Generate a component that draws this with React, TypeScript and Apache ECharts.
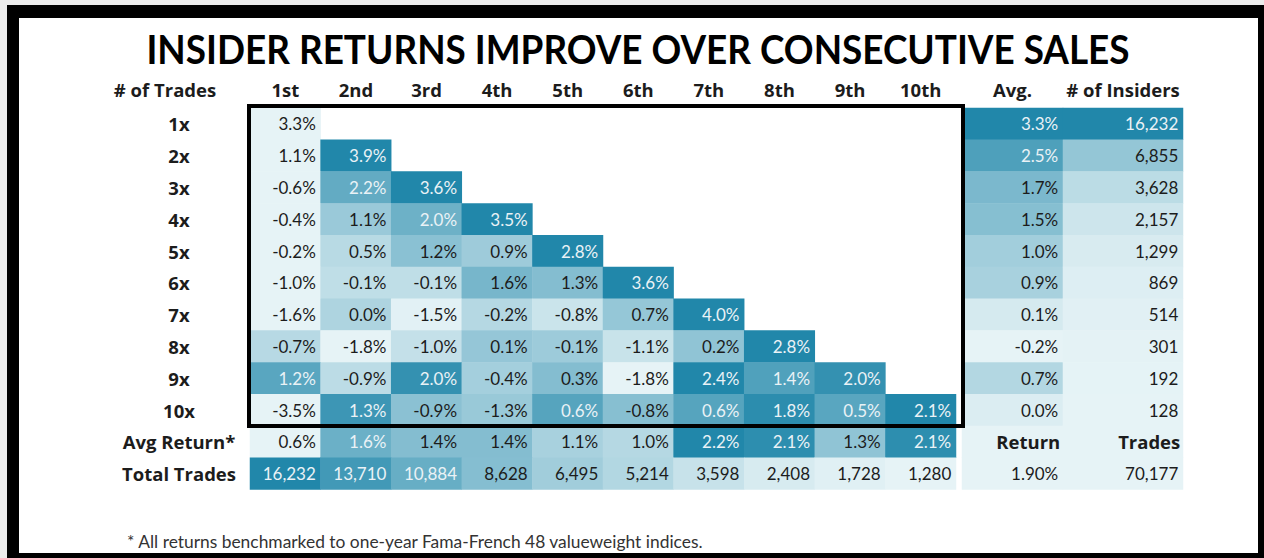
import React, { useEffect, useRef } from "react";
import * as echarts from "echarts";

// ---------- data ----------
const titleText = "INSIDER RETURNS IMPROVE OVER CONSECUTIVE SALES";
const cornerLabel = "# of Trades";
const footnote = "* All returns benchmarked to one-year Fama-French 48 valueweight indices.";

const colLabels = ["1st", "2nd", "3rd", "4th", "5th", "6th", "7th", "8th", "9th", "10th"];
const rowLabels = ["1x", "2x", "3x", "4x", "5x", "6x", "7x", "8x", "9x", "10x", "Avg Return*", "Total Trades"];

const row1x = [3.3];
const row2x = [1.1, 3.9];
const row3x = [-0.6, 2.2, 3.6];
const row4x = [-0.4, 1.1, 2.0, 3.5];
const row5x = [-0.2, 0.5, 1.2, 0.9, 2.8];
const row6x = [-1.0, -0.1, -0.1, 1.6, 1.3, 3.6];
const row7x = [-1.6, 0.0, -1.5, -0.2, -0.8, 0.7, 4.0];
const row8x = [-0.7, -1.8, -1.0, 0.1, -0.1, -1.1, 0.2, 2.8];
const row9x = [1.2, -0.9, 2.0, -0.4, 0.3, -1.8, 2.4, 1.4, 2.0];
const row10x = [-3.5, 1.3, -0.9, -1.3, 0.6, -0.8, 0.6, 1.8, 0.5, 2.1];
const returnRows = [row1x, row2x, row3x, row4x, row5x, row6x, row7x, row8x, row9x, row10x];

const avgReturnRow = [0.6, 1.6, 1.4, 1.4, 1.1, 1.0, 2.2, 2.1, 1.3, 2.1];
const totalTradesRow = [16232, 13710, 10884, 8628, 6495, 5214, 3598, 2408, 1728, 1280];

const avgHeader = "Avg.";
const avgColumn = [3.3, 2.5, 1.7, 1.5, 1.0, 0.9, 0.1, -0.2, 0.7, 0.0];
const insidersHeader = "# of Insiders";
const insidersColumn = [16232, 6855, 3628, 2157, 1299, 869, 514, 301, 192, 128];

const summaryHeaders = ["Return", "Trades"];
const overallReturn = 1.9;
const overallTrades = 70177;

// ---------- styling / layout ----------
const FONT = "Lato, 'Open Sans', sans-serif";
const HFONT = "'Open Sans', Lato, sans-serif";
const HSIZE = 18.5;
const VSIZE = 17;
const DARK_TXT = "#1c1c1c";
const LIGHT_TXT = "#eaf2f6";
const LOW = "#e6f3f6";
const HIGH = "#2187aa";
const TOP = 108;
const ROW_H = 31.8;
const NROWS = 12;
const MAIN_LEFT = 250;
const COL_W = 70.6;
const AVG_LEFT = 962;
const AVG_W = 101;
const INS_LEFT = 1063;
const INS_W = 120;

const pct = (v: number, d = 1) => v.toFixed(d) + "%";
const num = (v: number) => v.toLocaleString("en-US");

function scaler(vals: number[]) {
  const mn = Math.min(...vals);
  const mx = Math.max(...vals);
  return (v: number) => (mx === mn ? 0 : (v - mn) / (mx - mn));
}

function cell(x: number, y: number, v: number, n: number, text: string, header = false) {
  return {
    value: [x, y, v, n],
    text,
    label: header
      ? { color: DARK_TXT, fontWeight: "bold", fontFamily: HFONT, fontSize: HSIZE, distance: 3 }
      : { color: n >= 0.6 ? LIGHT_TXT : DARK_TXT },
  };
}

function buildMain() {
  const items: any[] = [];
  returnRows.forEach((row, r) => {
    const s = scaler(row);
    row.forEach((v, c) => items.push(cell(c, r, v, s(v), pct(v))));
  });
  const sa = scaler(avgReturnRow);
  avgReturnRow.forEach((v, c) => items.push(cell(c, 10, v, sa(v), pct(v))));
  const st = scaler(totalTradesRow);
  totalTradesRow.forEach((v, c) => items.push(cell(c, 11, v, st(v), num(v))));
  return items;
}

function buildSide(vals: number[], fmt: (v: number) => string, header: string, total: string) {
  const s = scaler(vals);
  const items: any[] = vals.map((v, r) => cell(0, r, v, s(v), fmt(v)));
  items.push(cell(0, 10, 0, -1, header, true));
  items.push(cell(0, 11, 0, -1, total));
  return items;
}

export default function App() {
  const ref = useRef<HTMLDivElement>(null);

  useEffect(() => {
    if (!ref.current) return;
    const chart = echarts.init(ref.current, undefined, { renderer: "svg" });
    const gridH = ROW_H * NROWS;
    const grids = [
      { left: MAIN_LEFT, top: TOP, width: COL_W * 10, height: gridH },
      { left: AVG_LEFT, top: TOP, width: AVG_W, height: gridH },
      { left: INS_LEFT, top: TOP, width: INS_W, height: gridH },
    ];
    const headerLabel = {
      fontFamily: HFONT,
      fontWeight: "bold",
      fontSize: HSIZE,
      color: DARK_TXT,
      margin: 9,
    };
    const xCat = (gi: number, data: string[]) => ({
      type: "category",
      gridIndex: gi,
      data,
      position: "top",
      axisLine: { show: false },
      axisTick: { show: false },
      splitLine: { show: false },
      axisLabel: headerLabel,
    });
    const yCat = (gi: number, show: boolean) => ({
      type: "category",
      gridIndex: gi,
      data: rowLabels,
      inverse: true,
      axisLine: { show: false },
      axisTick: { show: false },
      splitLine: { show: false },
      axisLabel: show
        ? { ...headerLabel, align: "center", margin: 71 }
        : { show: false },
    });
    const label = {
      show: true,
      position: "insideRight",
      distance: 5,
      fontFamily: FONT,
      fontSize: VSIZE,
      formatter: (p: any) => p.data.text,
    };
    const hm = (i: number, data: any[]) => ({
      type: "heatmap",
      xAxisIndex: i,
      yAxisIndex: i,
      data,
      label,
      emphasis: { disabled: true },
      itemStyle: { borderWidth: 0 },
    });

    chart.setOption({
      animation: false,
      backgroundColor: "transparent",
      grid: grids,
      xAxis: [xCat(0, colLabels), xCat(1, [avgHeader]), xCat(2, [insidersHeader])],
      yAxis: [yCat(0, true), yCat(1, false), yCat(2, false)],
      visualMap: {
        type: "continuous",
        show: false,
        dimension: 3,
        min: 0,
        max: 1,
        seriesIndex: [0, 1, 2],
        inRange: { color: [LOW, HIGH] },
        outOfRange: { color: "rgba(255,255,255,0)" },
      },
      series: [
        hm(0, buildMain()),
        hm(1, buildSide(avgColumn, (v) => pct(v), summaryHeaders[0], pct(overallReturn, 2))),
        hm(2, buildSide(insidersColumn, num, summaryHeaders[1], num(overallTrades))),
      ],
      graphic: [
        {
          type: "text",
          x: 638,
          y: 48,
          scaleX: 0.9,
          style: {
            text: titleText,
            font: `bold 41px ${FONT}`,
            fill: "#000",
            align: "center",
            verticalAlign: "middle",
            textAlign: "center",
            textVerticalAlign: "middle",
          },
        },
        {
          type: "text",
          x: 165,
          y: 89,
          style: {
            text: cornerLabel,
            font: `bold ${HSIZE}px ${HFONT}`,
            fill: DARK_TXT,
            align: "center",
            verticalAlign: "middle",
            textAlign: "center",
            textVerticalAlign: "middle",
          },
        },
        {
          type: "text",
          x: 127,
          y: 541,
          style: {
            text: footnote,
            font: `17.4px ${FONT}`,
            fill: "#333",
            align: "left",
            verticalAlign: "middle",
            textAlign: "left",
            textVerticalAlign: "middle",
          },
        },
        {
          type: "rect",
          z: 100,
          shape: { x: MAIN_LEFT - 1, y: TOP - 2, width: COL_W * 10 + 8, height: ROW_H * 10 + 2 },
          style: { fill: "none", stroke: "#000", lineWidth: 4 },
        },
      ],
    });
    return () => chart.dispose();
  }, []);

  return (
    <div style={{ position: "absolute", left: 0, top: 0, width: 1264, height: 558, background: "#ececec", overflow: "hidden" }}>
      <div style={{ position: "absolute", left: 7, top: 5, right: 0, bottom: 0, background: "#000" }} />
      <div style={{ position: "absolute", left: 19, top: 18, width: 1239, height: 535, background: "#fff" }} />
      <div ref={ref} style={{ position: "absolute", left: 0, top: 0, width: 1264, height: 558 }} />
    </div>
  );
}
